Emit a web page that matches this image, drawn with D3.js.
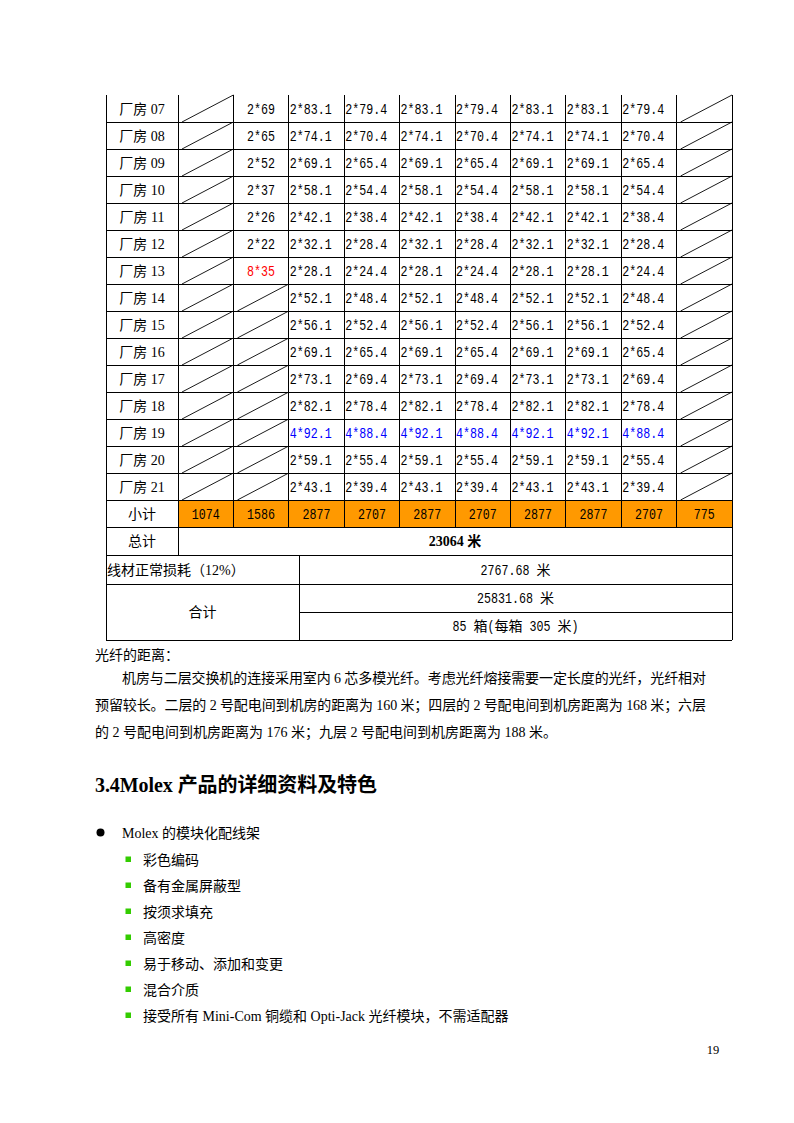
<!DOCTYPE html>
<html><head><meta charset="utf-8">
<script src="https://cdn.jsdelivr.net/npm/d3@7/dist/d3.min.js"></script>
<style>html,body{margin:0;padding:0;background:#fff}svg{display:block}</style>
</head><body>
<script>
// ---------------- data ----------------
const rowLabels = ["厂房 07","厂房 08","厂房 09","厂房 10","厂房 11","厂房 12","厂房 13","厂房 14","厂房 15","厂房 16","厂房 17","厂房 18","厂房 19","厂房 20","厂房 21"];
const col2Values = ["2*69","2*65","2*52","2*37","2*26","2*22","8*35",null,null,null,null,null,null,null,null];
const colAValues = ["2*83.1","2*74.1","2*69.1","2*58.1","2*42.1","2*32.1","2*28.1","2*52.1","2*56.1","2*69.1","2*73.1","2*82.1","4*92.1","2*59.1","2*43.1"];
const colBValues = ["2*79.4","2*70.4","2*65.4","2*54.4","2*38.4","2*28.4","2*24.4","2*48.4","2*52.4","2*65.4","2*69.4","2*78.4","4*88.4","2*55.4","2*39.4"];
const midColumnKinds = ["A","B","A","B","A","A","B"];   // columns 3..9
const subtotalValues = ["1074","1586","2877","2707","2877","2707","2877","2877","2707","775"];
const totalText = "23064 米";
const lossLabel = "线材正常损耗（12%）";
const lossText = "2767.68 米";
const sumLabel = "合计";
const sumTexts = ["25831.68 米", "85 箱(每箱 305 米)"];
const paraTitle = "光纤的距离：";
const paraLines = [
  "机房与二层交换机的连接采用室内 6 芯多模光纤。考虑光纤熔接需要一定长度的光纤，光纤相对",
  "预留较长。二层的 2 号配电间到机房的距离为 160 米；四层的 2 号配电间到机房距离为 168 米；六层",
  "的 2 号配电间到机房距离为 176 米；九层 2 号配电间到机房距离为 188 米。"
];
const heading = "3.4Molex 产品的详细资料及特色";
const bulletMain = "Molex 的模块化配线架";
const bulletSubs = ["彩色编码","备有金属屏蔽型","按须求填充","高密度","易于移动、添加和变更","混合介质","接受所有 Mini-Com 铜缆和 Opti-Jack 光纤模块，不需适配器"];
const pageNumber = "19";

// ---------------- layout ----------------
const W = 794, H = 1123;
const tableLeft = 106, labelRight = 178, tableRight = 732, lossDivider = 299;
const rowsTop = 95, rowsBottom = 500;
const subRow = [500, 527], totalRow = [527, 555], lossRow = [555, 584], sumRow = [584, 612, 640];
const redRow = "厂房 13", blueRow = "厂房 19";
const ORANGE = "#FF9900", BLUE = "#0000FF", RED = "#FF0000", GREEN = "#33CC00";
const SERIF = "'Liberation Serif','Noto Sans CJK SC',serif";
const CJK = "'Noto Sans CJK SC',sans-serif";
const MONO = "'Liberation Mono',monospace";

const svg = d3.select("body").append("svg").attr("width", W).attr("height", H);
svg.append("rect").attr("width", W).attr("height", H).attr("fill", "#fff");

const x = d3.scaleBand().domain(d3.range(10)).range([labelRight, tableRight]).padding(0);
const y = d3.scaleBand().domain(rowLabels).range([rowsTop, rowsBottom]).padding(0);

// SimSun-like text: ASCII half-width (7px), CJK full width (14px); spaces only advance
function simsun(parent, str, px, py, anchor, color) {
  const runs = [];
  for (const ch of str) {
    const kind = ch === " " ? "sp" : (ch.charCodeAt(0) < 128 ? "a" : "c");
    if (runs.length && runs[runs.length-1].kind === kind) runs[runs.length-1].s += ch;
    else runs.push({kind, s: ch});
  }
  runs.forEach(r => r.w = [...r.s].length * (r.kind === "c" ? 14 : 7));
  const total = d3.sum(runs, r => r.w);
  let cx = anchor === "middle" ? px - total / 2 : (anchor === "end" ? px - total : px);
  runs.forEach(r => {
    if (r.kind === "a") {
      parent.append("text").attr("transform", `translate(${cx},${py}) scale(${7 / 8.4},1)`)
        .attr("fill", color || "#000").attr("font-size", 14).attr("font-family", MONO).text(r.s);
    } else if (r.kind === "c") {
      parent.append("text").attr("x", cx).attr("y", py)
        .attr("fill", color || "#000").attr("font-size", 14).attr("font-family", CJK).text(r.s);
    }
    cx += r.w;
  });
}

const g = svg.append("g");

// subtotal fill
g.append("rect").attr("x", labelRight).attr("y", subRow[0]).attr("width", tableRight - labelRight)
  .attr("height", subRow[1] - subRow[0]).attr("fill", ORANGE);

// grid lines
const line = (x1, y1, x2, y2, w) => g.append("line").attr("x1", x1).attr("y1", y1).attr("x2", x2).attr("y2", y2)
  .attr("stroke", "#000").attr("stroke-width", w || 1).attr("shape-rendering", "crispEdges");

rowLabels.forEach(r => line(tableLeft, y(r) + y.bandwidth(), tableRight, y(r) + y.bandwidth()));
line(tableLeft, subRow[1], tableRight, subRow[1]);
line(tableLeft, totalRow[1], tableRight, totalRow[1]);
line(tableLeft, lossRow[1], tableRight, lossRow[1]);
line(lossDivider, sumRow[1], tableRight, sumRow[1]);
line(tableLeft, sumRow[2], tableRight, sumRow[2]);
// verticals
line(tableLeft, rowsTop, tableLeft, sumRow[2]);
line(tableRight, rowsTop, tableRight, sumRow[2]);
line(labelRight, rowsTop, labelRight, totalRow[1]);
d3.range(1, 10).forEach(i => line(x(i), rowsTop, x(i), subRow[1]));
line(lossDivider, lossRow[0], lossDivider, sumRow[2]);

// diagonals
function diag(col, r) {
  g.append("line").attr("x1", x(col) + 4).attr("y1", y(r) + y.bandwidth())
    .attr("x2", x(col) + x.bandwidth()).attr("y2", y(r))
    .attr("stroke", "#000").attr("stroke-width", 0.9);
}
rowLabels.forEach((r, i) => {
  diag(0, r);
  if (col2Values[i] == null) diag(1, r);
  diag(9, r);
});

// row labels
g.selectAll("text.rl").data(rowLabels).enter().append("text").attr("class", "rl")
  .attr("x", (tableLeft + labelRight) / 2).attr("y", d => y(d) + y.bandwidth() / 2 + 5)
  .attr("text-anchor", "middle").attr("font-family", SERIF).attr("font-size", 14).text(d => d);

// col 2 values
col2Values.forEach((v, i) => {
  if (v == null) return;
  const r = rowLabels[i];
  simsun(g, v, x(1) + x.bandwidth() / 2, y(r) + y.bandwidth() / 2 + 5, "middle", r === redRow ? RED : "#000");
});
// columns 3..9
midColumnKinds.forEach((k, j) => {
  const vals = k === "A" ? colAValues : colBValues;
  vals.forEach((v, i) => {
    const r = rowLabels[i];
    simsun(g, v, x(j + 2) + 1, y(r) + y.bandwidth() / 2 + 5, "start", r === blueRow ? BLUE : "#000");
  });
});

// subtotal row
g.append("text").attr("x", (tableLeft + labelRight) / 2).attr("y", (subRow[0] + subRow[1]) / 2 + 5)
  .attr("text-anchor", "middle").attr("font-family", CJK).attr("font-size", 14).text("小计");
subtotalValues.forEach((v, i) => simsun(g, v, x(i) + x.bandwidth() / 2, (subRow[0] + subRow[1]) / 2 + 5, "middle"));

// total row
g.append("text").attr("x", (tableLeft + labelRight) / 2).attr("y", (totalRow[0] + totalRow[1]) / 2 + 5)
  .attr("text-anchor", "middle").attr("font-family", CJK).attr("font-size", 14).text("总计");
g.append("text").attr("x", (labelRight + tableRight) / 2).attr("y", (totalRow[0] + totalRow[1]) / 2 + 5)
  .attr("text-anchor", "middle").attr("font-family", SERIF).attr("font-weight", "bold").attr("font-size", 14).text(totalText);

// loss row
g.append("text").attr("x", tableLeft + 1).attr("y", (lossRow[0] + lossRow[1]) / 2 + 5)
  .attr("font-family", SERIF).attr("font-size", 14).text(lossLabel);
simsun(g, lossText, (lossDivider + tableRight) / 2, (lossRow[0] + lossRow[1]) / 2 + 5, "middle");

// sum rows
g.append("text").attr("x", (tableLeft + lossDivider) / 2).attr("y", sumRow[1] + 5)
  .attr("text-anchor", "middle").attr("font-family", CJK).attr("font-size", 14).text(sumLabel);
simsun(g, sumTexts[0], (lossDivider + tableRight) / 2, (sumRow[0] + sumRow[1]) / 2 + 5, "middle");
simsun(g, sumTexts[1], (lossDivider + tableRight) / 2, (sumRow[1] + sumRow[2]) / 2 + 5, "middle");

// ---------------- body text ----------------
const body = svg.append("g").attr("font-family", SERIF).attr("font-size", 14).attr("fill", "#000");
body.append("text").attr("x", 95).attr("y", 660).text(paraTitle);
const paraX = [122, 95, 95], paraY = [683, 710, 737], paraLen = [584, 611, null];
paraLines.forEach((s, i) => {
  const t = body.append("text").attr("x", paraX[i]).attr("y", paraY[i]).style("white-space", "pre").text(s);
  if (paraLen[i]) t.attr("textLength", paraLen[i]).attr("lengthAdjust", "spacing");
});

svg.append("text").attr("x", 95).attr("y", 792).attr("font-family", SERIF).attr("font-weight", "bold")
  .attr("font-size", 20).attr("textLength", 282).attr("lengthAdjust", "spacing").text(heading);

svg.append("circle").attr("cx", 100.5).attr("cy", 832.5).attr("r", 4).attr("fill", "#000");
body.append("text").attr("x", 122).attr("y", 838).text(bulletMain);
const subY = [859, 885, 911, 937, 963, 989, 1015];
bulletSubs.forEach((s, i) => {
  svg.append("rect").attr("x", 125.5).attr("y", subY[i] - 2.5).attr("width", 5.5).attr("height", 5.5).attr("fill", GREEN);
  body.append("text").attr("x", 143).attr("y", subY[i] + 5.5).text(s);
});

svg.append("text").attr("x", 713).attr("y", 1054).attr("text-anchor", "middle")
  .attr("font-family", SERIF).attr("font-size", 12.5).text(pageNumber);
</script>
</body></html>
